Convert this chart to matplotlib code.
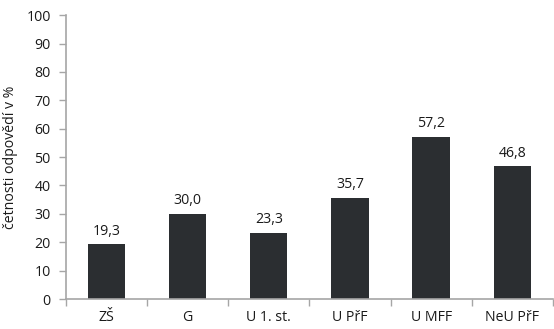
import matplotlib
matplotlib.use("Agg")
import matplotlib.pyplot as plt
import numpy as np

categories = ["ZŠ", "G", "U 1. st.", "U PřF", "U MFF", "NeU PřF"]
values = [19.3, 30.0, 23.3, 35.7, 57.2, 46.8]
y_ticks = list(range(0, 101, 10))
y_label = "četnosti odpovědí v %"

plt.rcParams["font.family"] = ["Open Sans", "DejaVu Sans"]
fs = 10.2

fig = plt.figure(figsize=(5.54, 3.29), dpi=100)
ax = fig.add_axes([0.119, 0.091, 0.879, 0.863])

x = np.arange(len(categories))
ax.bar(x, values, width=0.46, color="#2b2e31", zorder=2)

for xi, v in zip(x, values):
    ax.annotate(f"{v:.1f}".replace(".", ","), (xi, v), xytext=(0, 4),
                textcoords="offset points", ha="center", va="bottom",
                fontsize=fs, color="#1a1a1a")

ax.set_xlim(-0.5, len(categories) - 0.5)
ax.set_ylim(0, 100)
ax.set_yticks(y_ticks)
ax.set_yticklabels([str(t) for t in y_ticks])
ax.set_xticks(x)
ax.set_xticklabels(categories)
ax.set_xticks(np.arange(-0.5, len(categories)), minor=True)

ax.tick_params(axis="x", which="major", length=0, pad=8, labelsize=fs, labelcolor="#1a1a1a")
ax.tick_params(axis="x", which="minor", length=5, width=1, color="#a6a6a6", direction="out")
ax.tick_params(axis="y", length=5, width=1, color="#a6a6a6", direction="out", pad=6,
               labelsize=fs, labelcolor="#1a1a1a")

for side in ["top", "right"]:
    ax.spines[side].set_visible(False)
for side in ["left", "bottom"]:
    ax.spines[side].set_color("#a6a6a6")
    ax.spines[side].set_linewidth(1.2)

ax.set_ylabel(y_label, fontsize=fs, labelpad=6, color="#1a1a1a")

fig.savefig("out.png", dpi=100)
